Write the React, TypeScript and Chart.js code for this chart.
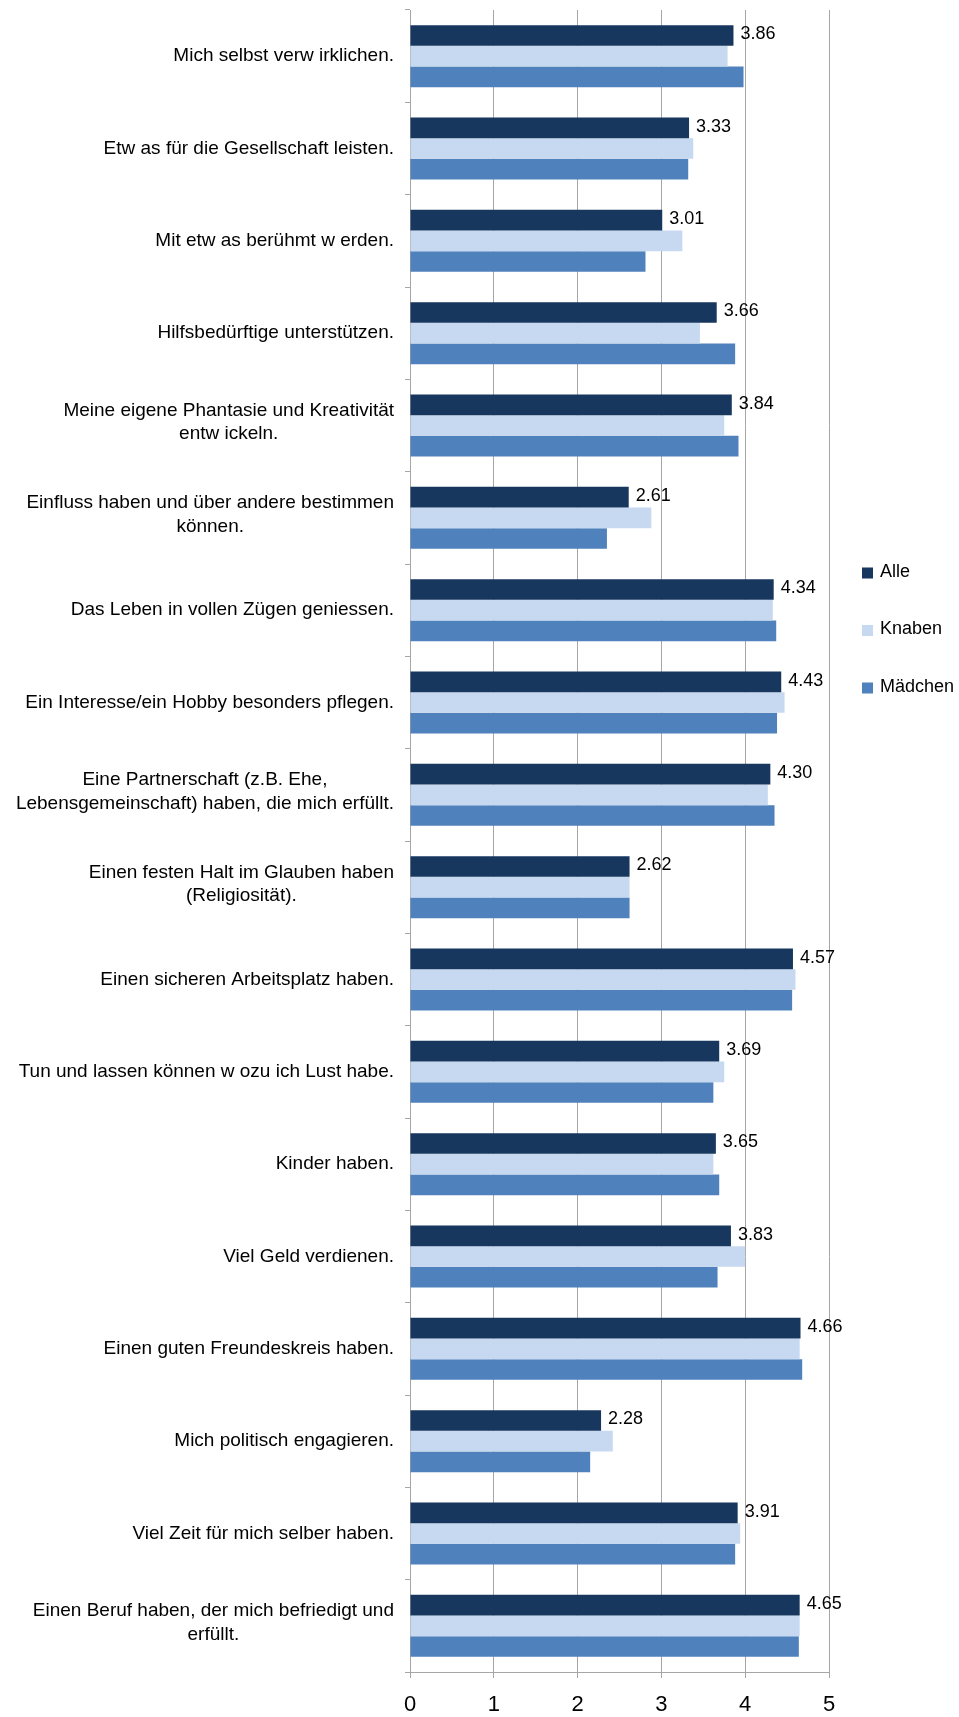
import React, { useEffect, useRef } from 'react';
import { Chart, registerables } from 'chart.js';

Chart.register(...registerables);

const CATEGORIES: (string | string[])[] = [
  'Mich selbst verw irklichen.',
  'Etw as für die Gesellschaft leisten.',
  'Mit etw as berühmt w erden.',
  'Hilfsbedürftige unterstützen.',
  ['Meine eigene Phantasie und Kreativität', 'entw ickeln.'],
  ['Einfluss haben und über andere bestimmen', 'können.'],
  'Das Leben in vollen Zügen geniessen.',
  'Ein Interesse/ein Hobby besonders pflegen.',
  ['Eine Partnerschaft (z.B. Ehe,', 'Lebensgemeinschaft) haben, die mich erfüllt.'],
  ['Einen festen Halt im Glauben haben', '(Religiosität).'],
  'Einen sicheren Arbeitsplatz haben.',
  'Tun und lassen können w ozu ich Lust habe.',
  'Kinder haben.',
  'Viel Geld verdienen.',
  'Einen guten Freundeskreis haben.',
  'Mich politisch engagieren.',
  'Viel Zeit für mich selber haben.',
  ['Einen Beruf haben, der mich befriedigt und', 'erfüllt.'],
];

const SERIES_NAMES = ['Alle', 'Knaben', 'Mädchen'];
const ALLE = [3.86, 3.33, 3.01, 3.66, 3.84, 2.61, 4.34, 4.43, 4.30, 2.62, 4.57, 3.69, 3.65, 3.83, 4.66, 2.28, 3.91, 4.65];
const KNABEN = [3.79, 3.38, 3.25, 3.46, 3.75, 2.88, 4.33, 4.47, 4.27, 2.62, 4.60, 3.75, 3.62, 4.00, 4.65, 2.42, 3.94, 4.65];
const MAEDCHEN = [3.98, 3.32, 2.81, 3.88, 3.92, 2.35, 4.37, 4.38, 4.35, 2.62, 4.56, 3.62, 3.69, 3.67, 4.68, 2.15, 3.88, 4.64];
const X_MIN = 0;
const X_MAX = 5;
const X_STEP = 1;

const COLORS = ['#17375E', '#C6D9F1', '#4F81BD'];
const FONT = '"Liberation Sans", Arial, Helvetica, sans-serif';
const GRID = '#A6A6A6';

const categoryLabelPlugin = {
  id: 'categoryLabels',
  afterDraw(chart: any) {
    const ctx = chart.ctx;
    const ys = chart.scales.y;
    const right = chart.chartArea.left - 16;
    ctx.save();
    ctx.font = `19px ${FONT}`;
    ctx.fillStyle = '#000';
    ctx.textBaseline = 'middle';
    ctx.textAlign = 'center';
    CATEGORIES.forEach((lab, i) => {
      const lines = Array.isArray(lab) ? lab : [lab];
      const w = Math.max(...lines.map((l) => ctx.measureText(l).width));
      const cx = right - w / 2;
      const yc = ys.getPixelForValue(i) - (lines.length > 1 ? 3 : 0);
      lines.forEach((l, k) => {
        ctx.fillText(l, cx, yc + (k - (lines.length - 1) / 2) * 23.5);
      });
    });
    ctx.restore();
  },
};

const valueLabelPlugin = {
  id: 'valueLabels',
  afterDatasetsDraw(chart: any) {
    const ctx = chart.ctx;
    const meta = chart.getDatasetMeta(0);
    const data = chart.data.datasets[0].data as number[];
    ctx.save();
    ctx.font = `18px ${FONT}`;
    ctx.fillStyle = '#000';
    ctx.textBaseline = 'middle';
    ctx.textAlign = 'left';
    meta.data.forEach((el: any, i: number) => {
      ctx.fillText(data[i].toFixed(2), el.x + 7, el.y - 1);
    });
    ctx.restore();
  },
};

const legendPlugin = {
  id: 'customLegend',
  afterDraw(chart: any) {
    const ctx = chart.ctx;
    const startY = 572;
    const gap = 57.5;
    const boxX = 862;
    ctx.save();
    ctx.font = `18px ${FONT}`;
    ctx.textBaseline = 'middle';
    ctx.textAlign = 'left';
    chart.data.datasets.forEach((ds: any, i: number) => {
      const y = startY + i * gap;
      ctx.fillStyle = ds.backgroundColor;
      ctx.fillRect(boxX, y - 4.5, 11, 11);
      ctx.fillStyle = '#000';
      ctx.fillText(ds.label, boxX + 18, y);
    });
    ctx.restore();
  },
};

export default function App() {
  const ref = useRef<HTMLCanvasElement | null>(null);
  useEffect(() => {
    if (!ref.current) return;
    const chart = new Chart(ref.current, {
      type: 'bar',
      data: {
        labels: CATEGORIES as any,
        datasets: [
          { label: SERIES_NAMES[0], data: ALLE, backgroundColor: COLORS[0] },
          { label: SERIES_NAMES[1], data: KNABEN, backgroundColor: COLORS[1] },
          { label: SERIES_NAMES[2], data: MAEDCHEN, backgroundColor: COLORS[2] },
        ],
      },
      options: {
        indexAxis: 'y',
        responsive: false,
        animation: false,
        layout: { padding: { top: 10, right: 130, left: 0, bottom: 0 } },
        datasets: {
          bar: { categoryPercentage: 0.672, barPercentage: 1, borderWidth: 0 },
        },
        plugins: {
          legend: { display: false },
          tooltip: { enabled: false },
        },
        scales: {
          x: {
            type: 'linear',
            min: X_MIN,
            max: X_MAX,
            position: 'bottom',
            ticks: {
              stepSize: X_STEP,
              color: '#000',
              font: { family: FONT, size: 22 },
              padding: 14,
            },
            grid: { color: GRID, lineWidth: 1, tickLength: 6, drawTicks: true },
            border: { color: GRID, width: 1 },
            afterFit: (s: any) => {
              s.height = 45;
            },
          },
          y: {
            type: 'category',
            ticks: { display: false },
            grid: { drawOnChartArea: false, drawTicks: true, tickLength: 5, color: GRID, offset: true },
            border: { color: GRID, width: 1 },
            afterFit: (s: any) => {
              s.width = 410;
            },
          },
        },
      },
      plugins: [categoryLabelPlugin, valueLabelPlugin, legendPlugin],
    } as any);
    return () => chart.destroy();
  }, []);

  return (
    <div style={{ position: 'absolute', left: 0, top: 0, width: 959, height: 1717, background: '#fff' }}>
      <canvas ref={ref} width={959} height={1717} style={{ display: 'block', width: 959, height: 1717 }} />
    </div>
  );
}
